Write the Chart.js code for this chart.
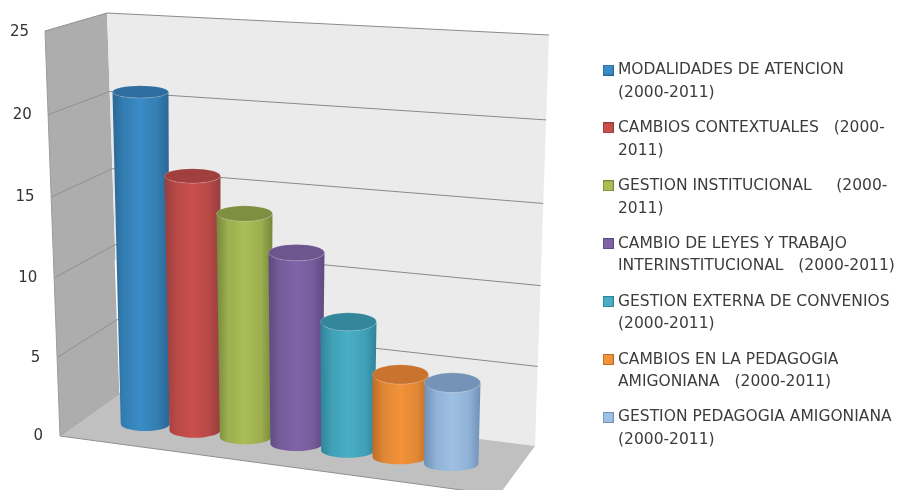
<!DOCTYPE html>
<html>
<head>
<meta charset="utf-8">
<script src="https://cdn.jsdelivr.net/npm/chart.js@4/dist/chart.umd.js"></script>
<style>html,body{margin:0;padding:0;background:#fff}canvas{display:block}</style>
</head>
<body>
<canvas id="c" width="898" height="490"></canvas>
<script>
const categories = [''];
const seriesLabels = [
  ['MODALIDADES DE ATENCION', '(2000-2011)'],
  ['CAMBIOS CONTEXTUALES   (2000-', '2011)'],
  ['GESTION INSTITUCIONAL     (2000-', '2011)'],
  ['CAMBIO DE LEYES Y TRABAJO', 'INTERINSTITUCIONAL   (2000-2011)'],
  ['GESTION EXTERNA DE CONVENIOS', '(2000-2011)'],
  ['CAMBIOS EN LA PEDAGOGIA', 'AMIGONIANA   (2000-2011)'],
  ['GESTION PEDAGOGIA AMIGONIANA', '(2000-2011)']
];
const seriesValues = [20.7, 16, 14.1, 12.1, 8.2, 5.3, 5.2];
const seriesColors = ['#3a8cc6', '#c94f4d', '#abbd55', '#8064a8', '#49aec6', '#f29239', '#9dc0e3'];
const shadeColors  = ['#337eb2', '#b84846', '#9cae4e', '#755c9a', '#40a0b6', '#e08735', '#8fb1d5'];
const edgeColors   = ['#2b6796', '#94403f', '#76883b', '#5e4a80', '#2f8499', '#c06c26', '#6f90b8'];
const capColors    = ['#2f6d9f', '#a03f3d', '#7e8f41', '#6d5690', '#34879b', '#c9732f', '#7593b6'];
const tickValues = [0, 5, 10, 15, 20, 25];

const SKEW = 0.04;
class SlantScale extends Chart.LinearScale {
  static id = 'slantLinear';
  static defaults = {};
  getPixelForValue(v) {
    const t = (v - this.min) / (this.max - this.min);
    return this.getPixelForDecimal(t * (1 - SKEW) / (1 - SKEW * t));
  }
  _computeLabelItems(area) {
    const items = super._computeLabelItems(area);
    items.forEach((it, i) => {
      const t = (this.ticks[i].value - this.min) / (this.max - this.min);
      it.options.translation[0] -= 14 * t;
    });
    return items;
  }
}
Chart.register(SlantScale);

function lerp(a, b, f) { return [a[0] + (b[0] - a[0]) * f, a[1] + (b[1] - a[1]) * f]; }
function poly(ctx, pts, fill) {
  ctx.beginPath();
  pts.forEach((p, i) => i ? ctx.lineTo(p[0], p[1]) : ctx.moveTo(p[0], p[1]));
  ctx.closePath();
  ctx.fillStyle = fill;
  ctx.fill();
}
function seg(ctx, a, b, color, w) {
  ctx.beginPath(); ctx.moveTo(a[0], a[1]); ctx.lineTo(b[0], b[1]);
  ctx.strokeStyle = color; ctx.lineWidth = w; ctx.stroke();
}
function swatch(i) {
  const s = document.createElement('canvas');
  s.width = 11; s.height = 11;
  const c = s.getContext('2d');
  c.fillStyle = edgeColors[i];
  c.fillRect(0, 0, 11, 11);
  c.fillStyle = seriesColors[i];
  c.fillRect(1, 1, 9, 9);
  return s;
}
const swatches = seriesColors.map((_, i) => swatch(i));

const FL_T = [45, 31], FL_B = [60, 436], BL_T = [107, 13], BL_B = [120, 393],
      BR_T = [549, 35], BR_B = [535, 446], FR_B = [499, 495];

const walls = {
  id: 'walls',
  beforeDraw(chart) {
    const ctx = chart.ctx, y = chart.scales.y;
    ctx.save();
    poly(ctx, [FL_T, BL_T, BL_B, FL_B], '#adadad');
    poly(ctx, [BL_T, BR_T, BR_B, BL_B], '#ebebeb');
    poly(ctx, [FL_B, BL_B, BR_B, FR_B], '#c0c0c0');
    seg(ctx, lerp(BL_B, BL_T, 0.35), BL_B, '#ffffff', 1.5);
    const h = y.getPixelForValue(y.min) - y.getPixelForValue(y.max);
    tickValues.slice(1).forEach(v => {
      const f = (y.getPixelForValue(y.min) - y.getPixelForValue(v)) / h;
      const a = lerp(FL_B, FL_T, f), b = lerp(BL_B, BL_T, f), c = lerp(BR_B, BR_T, f);
      seg(ctx, a, b, '#8f8f8f', 1);
      seg(ctx, b, c, '#8a8a8a', 1);
    });
    seg(ctx, FL_B, FR_B, '#8f8f8f', 1);
    seg(ctx, FL_T, FL_B, '#9a9a9a', 1);
    seg(ctx, FL_B, BL_B, '#a5a5a5', 1);
    ctx.restore();
  }
};

const cylinders = {
  id: 'cylinders',
  beforeDatasetsDraw(chart) {
    const ctx = chart.ctx;
    ctx.save();
    chart.data.datasets.forEach((ds, i) => {
      const el = chart.getDatasetMeta(i).data[0];
      const h = el.base - el.y;
      const baseY = el.base - 12 + 6.67 * i;
      const topY = baseY - h;
      const w = el.width, cx = el.x;
      const cxB = cx + (290 - cx) * h * 9.5e-5;
      const wB = w * (1 - h * 0.00038);
      const ryT = 6.2 + (topY - 92) / 290 * 3.6, ryB = 7;
      const g = ctx.createLinearGradient(cx - w / 2, 0, cx + w / 2, 0);
      g.addColorStop(0, edgeColors[i]);
      g.addColorStop(0.2, shadeColors[i]);
      g.addColorStop(0.5, seriesColors[i]);
      g.addColorStop(0.8, shadeColors[i]);
      g.addColorStop(1, edgeColors[i]);
      ctx.beginPath();
      ctx.moveTo(cx - w / 2, topY);
      ctx.lineTo(cxB - wB / 2, baseY);
      ctx.ellipse(cxB, baseY, wB / 2, ryB, 0, Math.PI, 0, true);
      ctx.lineTo(cx + w / 2, topY);
      ctx.ellipse(cx, topY, w / 2, ryT, 0, 0, Math.PI, false);
      ctx.closePath();
      ctx.fillStyle = g;
      ctx.fill();
      ctx.beginPath();
      ctx.ellipse(cx, topY, w / 2, ryT, 0, 0, Math.PI * 2);
      ctx.fillStyle = capColors[i];
      ctx.fill();
      ctx.strokeStyle = 'rgba(255,255,255,0.18)';
      ctx.lineWidth = 1;
      ctx.stroke();
    });
    ctx.restore();
    return false;
  }
};

const legendPlacement = {
  id: 'legendPlacement',
  beforeLayout(chart) {
    const L = chart.legend;
    if (!L._fitPatched) {
      const fit = L.fit;
      L.fit = function () { fit.call(this); this.width = 350; };
      L._fitPatched = true;
    }
  },
  afterLayout(chart) {
    const L = chart.legend;
    L.left = 593.75; L.right = 898; L.top = 49.75; L.bottom = 490;
  }
};

new Chart(document.getElementById('c'), {
  type: 'bar',
  data: {
    labels: categories,
    datasets: seriesLabels.map((label, i) => ({
      label,
      data: [seriesValues[i]],
      backgroundColor: seriesColors[i],
      borderColor: edgeColors[i],
      categoryPercentage: 0.7237,
      barPercentage: 1.077
    }))
  },
  options: {
    responsive: false,
    animation: false,
    layout: { padding: { top: 32, bottom: 54, left: 0, right: 0 } },
    scales: {
      x: { display: false },
      y: {
        type: 'slantLinear',
        min: 0, max: 25,
        afterFit(s) { s.width = 45; },
        afterBuildTicks(s) { s.ticks = tickValues.map(value => ({ value })); },
        grid: { display: false, drawTicks: false },
        border: { display: false },
        ticks: {
          padding: 2,
          color: '#333333',
          font: { family: '"DejaVu Sans"', size: 15 }
        }
      }
    },
    plugins: {
      tooltip: { enabled: false },
      legend: {
        position: 'right',
        align: 'start',
        labels: {
          usePointStyle: true,
          boxWidth: 4,
          boxHeight: 11,
          padding: 12.5,
          color: '#3c3c3c',
          font: { family: '"DejaVu Sans"', size: 15.5, lineHeight: '22.7px' },
          generateLabels(chart) {
            return Chart.defaults.plugins.legend.labels.generateLabels(chart)
              .map(item => ({ ...item, pointStyle: swatches[item.datasetIndex] }));
          }
        }
      }
    }
  },
  plugins: [walls, cylinders, legendPlacement]
});
</script>
</body>
</html>
